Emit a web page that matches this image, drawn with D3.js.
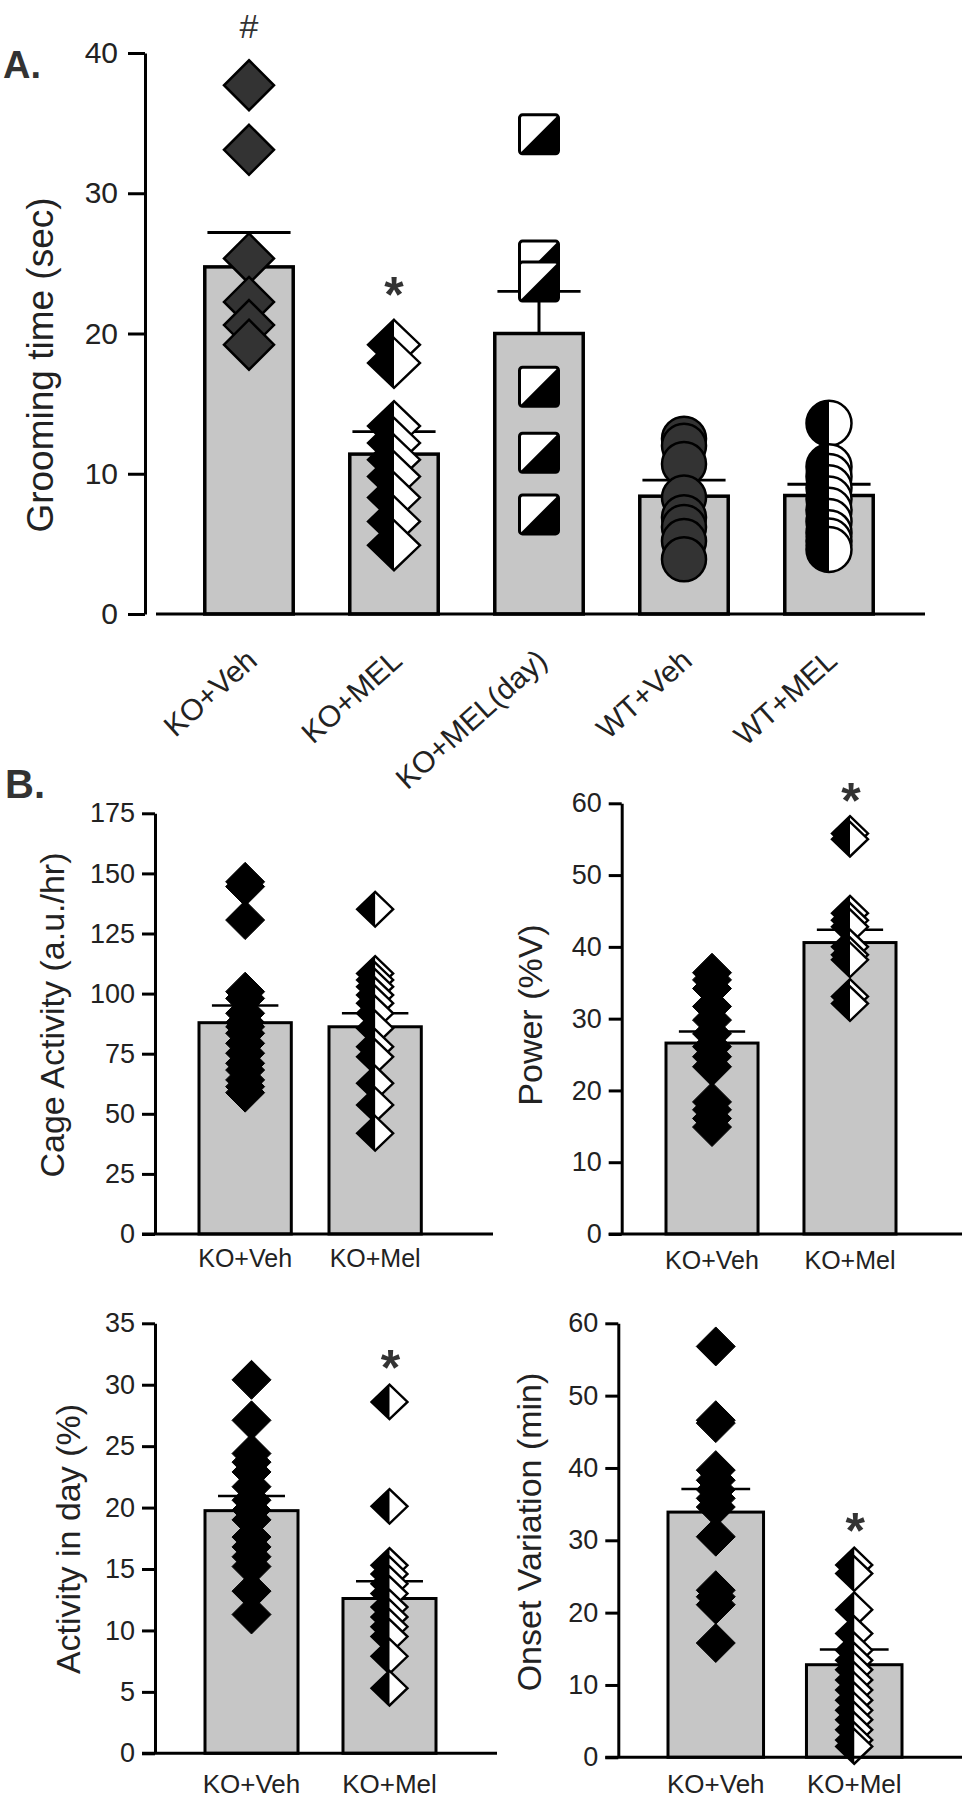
<!DOCTYPE html>
<html><head><meta charset="utf-8">
<script src="https://cdn.jsdelivr.net/npm/d3@7"></script>
<style>
body{margin:0;background:#fff}
svg{display:block}
text{font-family:"Liberation Sans",Arial,Helvetica,sans-serif}
</style>
</head><body>
<svg id="c" width="967" height="1800"></svg>
<script>
// ---------- Panel A data ----------
const groupsA = ["KO+Veh","KO+MEL","KO+MEL(day)","WT+Veh","WT+MEL"];
const meansA  = [24.75, 11.4, 20.0, 8.4, 8.45];
const semA    = [2.45, 1.6, 3.0, 1.15, 0.8];
const ticksA  = [0,10,20,30,40];
const koVehA    = [37.7, 33.1, 25.35, 22.25, 20.6, 19.2];
const koMelA    = [19.2, 17.9, 13.4, 12.2, 11.0, 9.8, 8.3, 6.6, 4.9];
const koMelDayA = [34.2, 25.2, 23.7, 16.2, 11.5, 7.1];
const wtVehA    = [12.5, 12.0, 10.7, 8.3, 6.9, 6.2, 5.2, 3.9];
const wtMelA    = [13.6, 10.5, 9.8, 9.0, 8.2, 7.4, 6.6, 5.8, 5.2, 4.6];
const marksA    = ["#","*","","",""];

// ---------- Panel B data ----------
const groupsB = ["KO+Veh","KO+Mel"];
const cageVeh = [146.5,144.5,130.6,100.8,98.0,91.8,88.0,86.2,83.5,79.3,75.2,71.0,68.2,64.1,61.3,58.8];
const cageMel = [135.1,108.4,105.7,102.9,99.4,96.0,91.8,85.6,77.9,73.7,62.7,53.7,41.9];
const cageMeans = [87.9, 86.2];
const cageSem   = [7.1, 5.6];
const cageTicks = [0,25,50,75,100,125,150,175];

const powerVeh = [36.4,35.4,34.2,31.7,29.8,27.9,26.1,24.7,23.3,18.4,17.3,16.1,14.9];
const powerMel = [55.8,55.0,44.7,43.7,42.8,40.0,38.9,38.2,33.1,32.1];
const powerMeans = [26.6, 40.6];
const powerSem   = [1.6, 1.8];
const powerTicks = [0,10,20,30,40,50,60];

const dayVeh = [30.4,27.1,24.4,23.7,22.9,21.7,20.6,19.8,19.0,17.6,16.8,16.0,15.2,13.2,11.3];
const dayMel = [28.6,20.1,15.3,14.6,13.8,13.0,11.9,11.1,10.3,9.5,7.9,5.3];
const dayMeans = [19.75, 12.6];
const daySem   = [1.2, 1.4];
const dayTicks = [0,5,10,15,20,25,30,35];

const onsetVeh = [56.8,46.6,46.2,39.7,38.3,37.0,35.8,34.6,30.5,23.1,22.2,21.1,15.8];
const onsetMel = [26.6,25.4,20.4,17.1,14.8,13.4,12.1,10.7,9.3,7.9,6.5,5.2,3.8,2.4,1.5];
const onsetMeans = [33.9, 12.8];
const onsetSem   = [3.2, 2.1];
const onsetTicks = [0,10,20,30,40,50,60];

// ---------- helpers ----------
const svg = d3.select("#c");
const BAR = "#c6c6c6", DARK = "#333333", TXT = "#222222";
const diamond = (rx,ry)=>`M0,${-ry}L${rx},0L0,${ry}L${-rx},0Z`;
const leftDiamond = (rx,ry)=>`M0,${-ry}L0,${ry}L${-rx},0Z`;
const leftCircle = r=>`M0,${-r}A${r},${r} 0 0,0 0,${r}Z`;
const lrTriangle = s=>`M${s/2},${-s/2}L${s/2},${s/2}L${-s/2},${s/2}Z`;

function drawMarker(g, type, sz){
  if(type==="diamondDark"){
    g.append("path").attr("d",diamond(sz,sz)).attr("fill",DARK).attr("stroke","#000").attr("stroke-width",2.5);
  } else if(type==="diamondBlack"){
    g.append("path").attr("d",diamond(sz,sz)).attr("fill","#000").attr("stroke","#000").attr("stroke-width",1);
  } else if(type==="halfDiamond"){
    g.append("path").attr("d",diamond(sz,sz*0.96)).attr("fill","#fff").attr("stroke","#000").attr("stroke-width",2.4);
    g.append("path").attr("d",leftDiamond(sz,sz*0.96)).attr("fill","#000");
  } else if(type==="halfSquare"){
    g.append("rect").attr("x",-sz/2).attr("y",-sz/2).attr("width",sz).attr("height",sz).attr("rx",3)
      .attr("fill","#fff").attr("stroke","#000").attr("stroke-width",3);
    g.append("path").attr("d",lrTriangle(sz)).attr("fill","#000");
  } else if(type==="circleDark"){
    g.append("circle").attr("r",sz).attr("fill",DARK).attr("stroke","#000").attr("stroke-width",2.5);
  } else if(type==="halfCircle"){
    g.append("circle").attr("r",sz).attr("fill","#fff").attr("stroke","#000").attr("stroke-width",2.5);
    g.append("path").attr("d",leftCircle(sz)).attr("fill","#000");
  }
}

function styleAxis(sel, fs){
  sel.select(".domain").attr("stroke","#000").attr("stroke-width",3);
  sel.selectAll(".tick line").attr("stroke","#000").attr("stroke-width",3);
  sel.selectAll(".tick text").attr("fill",TXT).attr("font-size",fs);
}

// ---------- Panel A ----------
(function(){
  const y = d3.scaleLinear().domain([0,40]).range([614,53]);
  const x = d3.scaleBand().domain(groupsA).range([176.5,901.5]).paddingInner(0.39).paddingOuter(0.195);
  const cx = d=>x(d)+x.bandwidth()/2;
  const series = [koVehA, koMelA, koMelDayA, wtVehA, wtMelA];
  const shapes = ["diamondDark","halfDiamond","halfSquare","circleDark","halfCircle"];
  const sizes  = [25, 26, 39, 22, 22.5];
  const g = svg.append("g");

  g.selectAll("rect.bar").data(groupsA).join("rect").attr("class","bar")
    .attr("x",d=>x(d)).attr("y",(d,i)=>y(meansA[i])).attr("width",x.bandwidth())
    .attr("height",(d,i)=>y(0)-y(meansA[i])).attr("fill",BAR).attr("stroke","#000").attr("stroke-width",3.5);

  const eb = g.selectAll("g.err").data(groupsA).join("g").attr("class","err");
  eb.append("line").attr("x1",cx).attr("x2",cx).attr("y1",(d,i)=>y(meansA[i])).attr("y2",(d,i)=>y(meansA[i]+semA[i]))
    .attr("stroke","#000").attr("stroke-width",3);
  eb.append("line").attr("x1",d=>cx(d)-x.bandwidth()*0.47).attr("x2",d=>cx(d)+x.bandwidth()*0.47)
    .attr("y1",(d,i)=>y(meansA[i]+semA[i])).attr("y2",(d,i)=>y(meansA[i]+semA[i]))
    .attr("stroke","#000").attr("stroke-width",2.8);

  groupsA.forEach((grp,i)=>{
    const pg = g.append("g");
    series[i].forEach(v=>{
      const m = pg.append("g").attr("transform",`translate(${cx(grp)},${y(v)})`);
      drawMarker(m, shapes[i], sizes[i]);
    });
  });

  const ya = g.append("g").attr("transform","translate(145,0)")
    .call(d3.axisLeft(y).tickValues(ticksA).tickSize(17).tickSizeOuter(0).tickPadding(10));
  styleAxis(ya, 30);

  g.append("line").attr("x1",156).attr("x2",925).attr("y1",y(0)).attr("y2",y(0))
    .attr("stroke","#000").attr("stroke-width",3);

  g.selectAll("text.xl").data(groupsA).join("text").attr("class","xl")
    .attr("transform",d=>`translate(${cx(d)+10},663) rotate(-42)`)
    .attr("text-anchor","end").attr("font-size",30).attr("fill",TXT).text(d=>d);

  g.append("text").attr("transform",`translate(53,${(192+538)/2}) rotate(-90)`)
    .attr("text-anchor","middle").attr("font-size",37).attr("fill",TXT).text("Grooming time (sec)");

  g.selectAll("text.mk").data(groupsA).join("text").attr("class","mk")
    .attr("x",cx).attr("y",(d,i)=> marksA[i]==="#" ? 38 : y(d3.max(series[i])) - 33)
    .attr("text-anchor","middle")
    .attr("font-size",(d,i)=>marksA[i]==="#"?34:50).attr("font-weight",(d,i)=>marksA[i]==="#"?"normal":"bold")
    .attr("fill",DARK).text((d,i)=>marksA[i]);

  g.append("text").attr("x",3).attr("y",78).attr("font-size",38).attr("font-weight","bold").attr("fill",DARK).text("A.");
})();

// ---------- Panel B ----------
function panelB(c){
  const g = svg.append("g");
  const y = d3.scaleLinear().domain([0,c.max]).range([c.yBot,c.yTop]);
  const x = d3.scaleBand().domain(groupsB).range(c.band).paddingInner(c.pi).paddingOuter(0);
  const cx = d=>x(d)+x.bandwidth()/2;

  g.selectAll("rect").data(groupsB).join("rect")
    .attr("x",d=>x(d)).attr("y",(d,i)=>y(c.means[i])).attr("width",x.bandwidth())
    .attr("height",(d,i)=>y(0)-y(c.means[i])).attr("fill",BAR).attr("stroke","#000").attr("stroke-width",3);

  const eb = g.selectAll("g.err").data(groupsB).join("g").attr("class","err");
  eb.append("line").attr("x1",cx).attr("x2",cx).attr("y1",(d,i)=>y(c.means[i])).attr("y2",(d,i)=>y(c.means[i]+c.sem[i]))
    .attr("stroke","#000").attr("stroke-width",2.5);
  eb.append("line").attr("x1",d=>cx(d)-x.bandwidth()*0.36).attr("x2",d=>cx(d)+x.bandwidth()*0.36)
    .attr("y1",(d,i)=>y(c.means[i]+c.sem[i])).attr("y2",(d,i)=>y(c.means[i]+c.sem[i]))
    .attr("stroke","#000").attr("stroke-width",2.5);

  const vg = g.append("g");
  c.veh.forEach(v=>{ drawMarker(vg.append("g").attr("transform",`translate(${cx(groupsB[0])},${y(v)})`),"diamondBlack",19.5); });
  const mg = g.append("g");
  c.mel.forEach(v=>{ drawMarker(mg.append("g").attr("transform",`translate(${cx(groupsB[1])},${y(v)})`),"halfDiamond",18); });

  const ya = g.append("g").attr("transform",`translate(${c.axisX},0)`)
    .call(d3.axisLeft(y).tickValues(c.ticks).tickSize(13).tickSizeOuter(0).tickPadding(7));
  styleAxis(ya, 27);

  g.append("line").attr("x1",c.axisX-13).attr("x2",c.xEnd).attr("y1",y(0)).attr("y2",y(0))
    .attr("stroke","#000").attr("stroke-width",3);

  g.selectAll("text.xl").data(groupsB).join("text").attr("class","xl")
    .attr("x",cx).attr("y",c.xLabelY).attr("text-anchor","middle").attr("font-size",c.xlfs).attr("fill",TXT).text(d=>d);

  g.append("text").attr("transform",`translate(${c.ylx},${c.ylCenter}) rotate(-90)`)
    .attr("text-anchor","middle").attr("font-size",34).attr("fill",TXT).text(c.ylabel);

  if(c.starY){
    g.append("text").attr("x",cx(groupsB[1])+1).attr("y",c.starY+28).attr("text-anchor","middle")
      .attr("font-size",50).attr("font-weight","bold").attr("fill",DARK).text("*");
  }
}

panelB({axisX:155, yTop:813.3, yBot:1234, xEnd:493, band:[199,421.3], pi:0.29,
  veh:cageVeh, mel:cageMel, means:cageMeans, sem:cageSem, ticks:cageTicks, max:175,
  ylabel:"Cage Activity (a.u./hr)", ylx:64, ylCenter:1015, xLabelY:1267, xlfs:25, starY:null});
panelB({axisX:621.7, yTop:803.3, yBot:1234, xEnd:962, band:[666,896], pi:0.333,
  veh:powerVeh, mel:powerMel, means:powerMeans, sem:powerSem, ticks:powerTicks, max:60,
  ylabel:"Power (%V)", ylx:542, ylCenter:1015, xLabelY:1269, xlfs:25, starY:790});
panelB({axisX:155, yTop:1323.3, yBot:1753.3, xEnd:497, band:[205,436], pi:0.326,
  veh:dayVeh, mel:dayMel, means:dayMeans, sem:daySem, ticks:dayTicks, max:35,
  ylabel:"Activity in day (%)", ylx:80, ylCenter:1539, xLabelY:1793, xlfs:26, starY:1357});
panelB({axisX:618.3, yTop:1323.3, yBot:1757.3, xEnd:962, band:[668,902], pi:0.31,
  veh:onsetVeh, mel:onsetMel, means:onsetMeans, sem:onsetSem, ticks:onsetTicks, max:60,
  ylabel:"Onset Variation (min)", ylx:541, ylCenter:1532, xLabelY:1793, xlfs:26, starY:1520});

svg.append("text").attr("x",5).attr("y",798).attr("font-size",40).attr("font-weight","bold").attr("fill",DARK).text("B.");
</script>
</body></html>
